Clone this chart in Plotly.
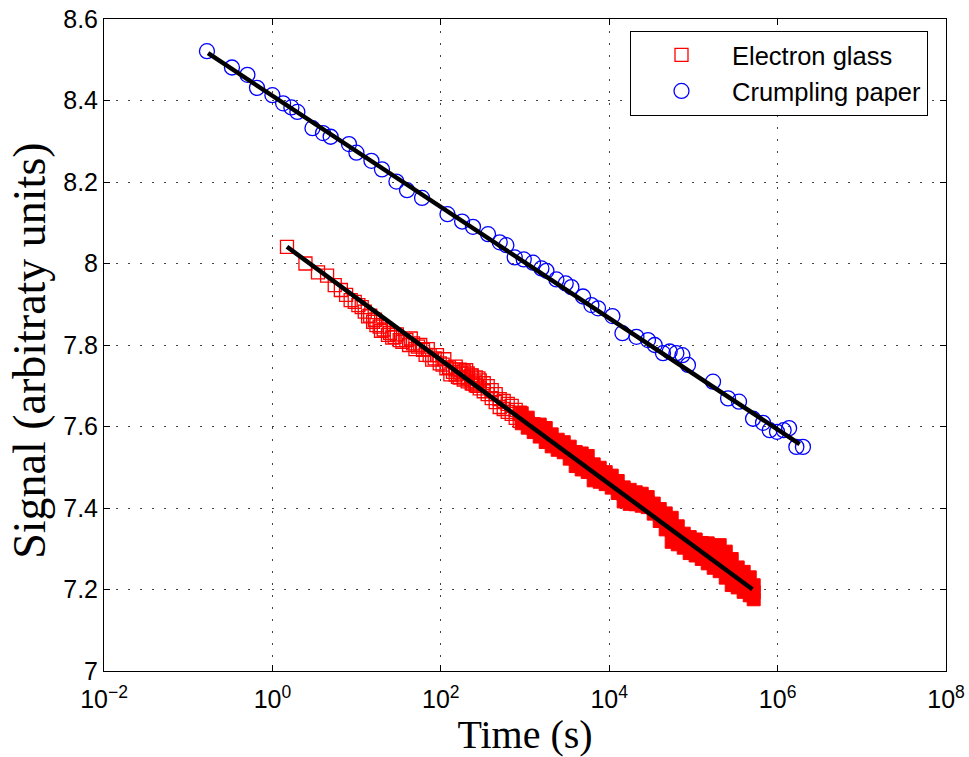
import plotly.graph_objects as go

# ---------------- data ----------------
# Crumpling paper (blue circles)
t_paper = [0.167, 0.331, 0.505, 0.656, 1.0, 1.34, 1.68, 1.98, 2.99, 3.99,
           4.92, 8.12, 9.95, 15.0, 20.0, 29.7, 39.7, 59.9, 120, 179,
           241, 364, 501, 601, 755, 966, 1245, 1567, 1796, 2360,
           3044, 3556, 4887, 6150, 7365, 10920, 14350, 21050, 28900, 34700,
           43550, 52300, 62800, 74000, 86200, 171000, 258000, 348000, 511000, 671000,
           806000, 984000, 1180000, 1370000, 1670000, 2000000]
y_paper = [8.521, 8.481, 8.463, 8.431, 8.413, 8.393, 8.383, 8.372, 8.332, 8.320,
           8.311, 8.293, 8.272, 8.252, 8.231, 8.201, 8.180, 8.161, 8.121, 8.103,
           8.090, 8.072, 8.052, 8.045, 8.015, 8.010, 8.002, 7.988, 7.982, 7.961,
           7.951, 7.942, 7.919, 7.898, 7.890, 7.871, 7.829, 7.820, 7.812, 7.800,
           7.780, 7.784, 7.780, 7.775, 7.751, 7.710, 7.669, 7.661, 7.619, 7.609,
           7.591, 7.587, 7.591, 7.596, 7.550, 7.550]

# Electron glass (red squares), sparse early part (outlined squares)
t_glass = [1.49, 2.47, 3.48, 4.46, 5.5, 6.5, 7.5, 8.5, 9.5, 10.5,
           11.5, 12.5, 13.7, 14.5, 15.7, 16.5, 17.2, 18.8, 19.5, 21,
           23.6, 25, 26.5, 28.3, 30, 32.5, 35, 39, 42, 44,
           46.8, 50, 53.6, 57, 61.5, 66, 70, 73.8, 79, 84.6,
           90, 97.1, 105, 110, 116.6, 125, 130, 139.6, 150, 160,
           175.8, 190, 200, 210.6, 230, 240, 253, 270, 280,
           150.3, 167.7, 187.1, 208.7, 232.8, 259.8, 289.7, 323.3, 360.6, 402.3,
           448.7, 500.6, 558.5, 623.1, 695.0, 775.4, 865.0,
           150.3, 167.7, 187.1, 208.7, 232.8, 259.8, 289.7, 323.3, 360.6, 402.3,
           448.7, 500.6, 558.5, 623.1, 695.0, 775.4, 865.0]
y_glass = [8.041, 8.000, 7.978, 7.970, 7.947, 7.935, 7.923, 7.910, 7.906, 7.898,
           7.893, 7.882, 7.870, 7.872, 7.857, 7.862, 7.849, 7.845, 7.835, 7.838,
           7.825, 7.830, 7.818, 7.820, 7.826, 7.812, 7.808, 7.812, 7.800, 7.816,
           7.804, 7.790, 7.796, 7.800, 7.788, 7.776, 7.790, 7.775, 7.764, 7.767,
           7.775, 7.755, 7.752, 7.765, 7.743, 7.745, 7.728, 7.734, 7.740, 7.722,
           7.730, 7.722, 7.738, 7.718, 7.725, 7.705, 7.710, 7.700, 7.718,
           7.7469, 7.7397, 7.7350, 7.7301, 7.7254, 7.7206, 7.7133, 7.7061, 7.6989, 7.6892,
           7.6795, 7.6674, 7.6626, 7.6554, 7.6506, 7.6409, 7.6337,
           7.7273, 7.7201, 7.7153, 7.7105, 7.7058, 7.7010, 7.6937, 7.6865, 7.6793, 7.6696,
           7.6599, 7.6478, 7.6429, 7.6357, 7.6310, 7.6213, 7.6140]

# Electron glass, dense late part (overlapping squares look solid)
t_dense = [914, 1077, 1268, 1496, 1762, 2075, 2445, 2882, 3396, 4000,
           4712, 5555, 6545, 7709, 9083, 10710, 12620, 14860, 17500, 20650,
           24320, 28640, 33790, 39810, 46900, 55250, 65160, 76740, 90360, 106400,
           125600, 147900, 174200, 205100, 242100, 285100, 335700, 395400, 466600, 520000]
y_dense_mid = [7.6202, 7.6094, 7.5961, 7.5900, 7.5792, 7.5660, 7.5552, 7.5491, 7.5358, 7.5201,
               7.5142, 7.5081, 7.4875, 7.4816, 7.4733, 7.4647, 7.4515, 7.4333, 7.4274, 7.4238,
               7.4203, 7.4144, 7.3985, 7.3828, 7.3671, 7.3465, 7.3330, 7.3198, 7.3090, 7.3031,
               7.2946, 7.2887, 7.2803, 7.2769, 7.2610, 7.2428, 7.2296, 7.2188, 7.2078, 7.1932]
y_dense_top = [7.6325, 7.6217, 7.6059, 7.6047, 7.5964, 7.5807, 7.5675, 7.5614, 7.5505, 7.5373,
               7.5338, 7.5277, 7.5071, 7.4988, 7.4880, 7.4794, 7.4662, 7.4505, 7.4446, 7.4385,
               7.4350, 7.4267, 7.4108, 7.3975, 7.3867, 7.3759, 7.3551, 7.3370, 7.3286, 7.3227,
               7.3142, 7.3132, 7.3073, 7.3088, 7.2929, 7.2747, 7.2541, 7.2433, 7.2299, 7.2104]
y_dense_bot = [7.6079, 7.5971, 7.5863, 7.5753, 7.5620, 7.5513, 7.5429, 7.5368, 7.5211, 7.5029,
               7.4946, 7.4885, 7.4679, 7.4644, 7.4586, 7.4500, 7.4368, 7.4161, 7.4102, 7.4091,
               7.4056, 7.4021, 7.3862, 7.3681, 7.3475, 7.3171, 7.3109, 7.3026, 7.2894, 7.2835,
               7.2750, 7.2642, 7.2533, 7.2450, 7.2291, 7.2109, 7.2051, 7.1943, 7.1857, 7.1760]

# fitted logarithmic relaxation lines (end points)
fit_paper_t = [0.172, 1.83e6]
fit_paper_y = [8.516, 7.557]
fit_glass_t = [1.49, 5.02e5]
fit_glass_y = [8.041, 7.2005]

x_tickvals = [1e-2, 1e0, 1e2, 1e4, 1e6, 1e8]
x_ticktext = ["10<sup>\u22122</sup>", "10<sup>0</sup>", "10<sup>2</sup>",
              "10<sup>4</sup>", "10<sup>6</sup>", "10<sup>8</sup>"]
y_tickvals = [7.0, 7.2, 7.4, 7.6, 7.8, 8.0, 8.2, 8.4, 8.6]
y_ticktext = ["7", "7.2", "7.4", "7.6", "7.8", "8", "8.2", "8.4", "8.6"]

x_title = "Time (s)"
y_title = "Signal (arbitraty units)"

# ---------------- figure ----------------
RED = "#ff0000"
BLUE = "#0000ff"
SERIF = "Liberation Serif, Times New Roman, serif"
SANS = "Liberation Sans, Arial, sans-serif"

fig = go.Figure()

fig.add_trace(go.Scatter(
    x=t_glass, y=y_glass, mode="markers", name="Electron glass",
    marker=dict(symbol="square-open", size=13, color=RED, line=dict(width=1.3, color=RED)),
))
fig.add_trace(go.Scatter(
    x=t_dense + t_dense + t_dense, y=y_dense_top + y_dense_mid + y_dense_bot,
    mode="markers", showlegend=False,
    marker=dict(symbol="square", size=13, color=RED, line=dict(width=1, color=RED)),
))
fig.add_trace(go.Scatter(
    x=t_paper, y=y_paper, mode="markers", name="Crumpling paper",
    marker=dict(symbol="circle-open", size=15, color=BLUE, line=dict(width=1.3, color=BLUE)),
))
fig.add_trace(go.Scatter(
    x=fit_glass_t, y=fit_glass_y, mode="lines", showlegend=False,
    line=dict(color="black", width=4.5),
))
fig.add_trace(go.Scatter(
    x=fit_paper_t, y=fit_paper_y, mode="lines", showlegend=False,
    line=dict(color="black", width=4.5),
))

axis_common = dict(
    showline=True, linecolor="black", linewidth=1, mirror="ticks",
    ticks="inside", ticklen=6, tickcolor="black", tickwidth=1,
    showgrid=True, gridcolor="#444444", gridwidth=1, griddash="2px,10px",
    zeroline=False, automargin=False,
    tickfont=dict(family=SANS, size=25, color="black"),
)

fig.update_xaxes(
    type="log", range=[-2, 8], tickmode="array",
    tickvals=x_tickvals, ticktext=x_ticktext, ticklabelstandoff=6,
    title=dict(text=x_title, font=dict(family=SERIF, size=40, color="black"), standoff=0),
    **axis_common,
)
fig.update_yaxes(
    range=[7, 8.6], tickmode="array",
    tickvals=y_tickvals, ticktext=y_ticktext,
    **axis_common,
)

fig.add_annotation(
    text=y_title, xref="paper", yref="paper", x=-0.0879, y=0.491,
    xanchor="center", yanchor="middle", textangle=-90, showarrow=False,
    font=dict(family=SERIF, size=46, color="black"),
)

fig.update_layout(
    width=969, height=757, autosize=False,
    margin=dict(l=104, r=23, t=19, b=86),
    paper_bgcolor="white", plot_bgcolor="white",
    showlegend=True,
    legend=dict(
        x=0.6247, y=0.982, xanchor="left", yanchor="top",
        bgcolor="white", bordercolor="black", borderwidth=1,
        font=dict(family=SANS, size=25.5, color="black"),
        itemwidth=91,
    ),
)

fig.write_html("out.html", config={"displayModeBar": False},
               post_script="document.body.style.margin='0px';")
